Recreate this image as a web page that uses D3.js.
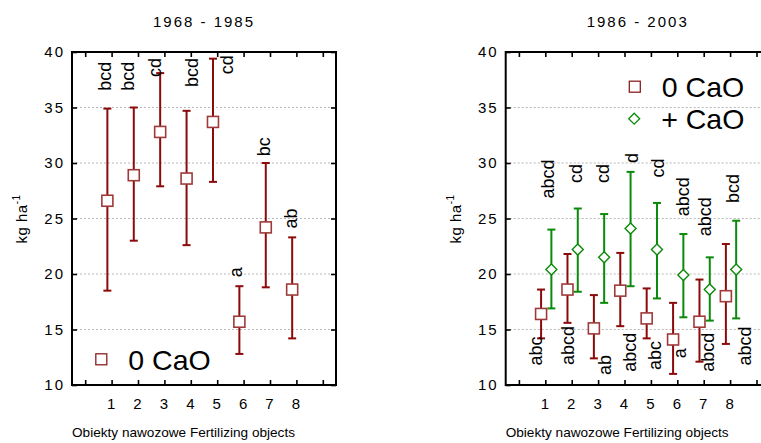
<!DOCTYPE html>
<html>
<head>
<meta charset="utf-8">
<script src="https://cdn.jsdelivr.net/npm/d3@7"></script>
<style>
  body { margin: 0; background: #fff; }
  svg text { font-family: "Liberation Sans", Arial, sans-serif; fill: #000; }
</style>
</head>
<body>
<svg id="chart" width="761" height="443"></svg>
<script>
// Fertilizing objects (x categories) and tick slots
const objects = [1, 2, 3, 4, 5, 6, 7, 8];
const tickSlots = [0, 1, 2, 3, 4, 5, 6, 7, 8, 9];
const yTicks = [10, 15, 20, 25, 30, 35, 40];
const gridValues = [15, 20, 25, 30, 35];

// 1968 - 1985, 0 CaO
const earlyMean = [26.6, 28.9, 32.8, 28.6, 33.7, 15.7, 24.2, 18.6];
const earlyLow = [18.5, 23.0, 27.9, 22.6, 28.3, 12.8, 18.8, 14.2];
const earlyHigh = [34.9, 35.0, 38.1, 34.7, 39.4, 18.9, 30.0, 23.3];
const earlyLetters = ["bcd", "bcd", "cd", "bcd", "cd", "a", "bc", "ab"];
const earlyLetterAt = [36.5, 36.5, 37.75, 36.85, 38.0, 19.7, 30.6, 24.1];
const earlyLetterDx = [-0.7, -3.8, -3.5, 6.8, 15.7, -2, 0, 0.5];

// 1986 - 2003, 0 CaO
const lateNoCaMean = [16.4, 18.6, 15.1, 18.5, 16.0, 14.1, 15.7, 18.0];
const lateNoCaLow = [14.2, 15.6, 12.4, 15.3, 14.2, 11.0, 12.1, 13.7];
const lateNoCaHigh = [18.6, 21.8, 18.1, 21.9, 18.7, 17.4, 19.5, 22.7];
const lateNoCaLetters = ["abc", "abcd", "ab", "abcd", "abc", "a", "abcd", "abcd"];
const lateNoCaLetterAt = [11.75, 11.8, 10.9, 11.2, 11.35, 12.4, 11.2, 11.75];
const lateNoCaLetterDx = [-3, 2.2, 12.5, 11.1, 9.7, 8.3, 10.2, 20.5];

// 1986 - 2003, + CaO
const lateCaMean = [20.4, 22.2, 21.5, 24.1, 22.2, 19.9, 18.6, 20.4];
const lateCaLow = [16.9, 18.4, 17.4, 18.9, 17.8, 16.1, 15.8, 16.0];
const lateCaHigh = [24.0, 25.9, 25.4, 29.2, 26.4, 23.6, 21.5, 24.8];
const lateCaLetters = ["abcd", "cd", "cd", "d", "cd", "abcd", "abcd", "bcd"];
const lateCaLetterAt = [26.8, 28.2, 28.2, 30.0, 28.7, 25.2, 23.4, 26.4];
const lateCaLetterDx = [8.6, 10.6, 10.8, 13.1, 13, 11.6, 6.9, 8.5];

const RED = "#8b0a0a";
const GREEN = "#0a8a0a";
const plotW = 264, plotH = 333;

const x = d3.scaleLinear().domain([-0.5, 9.5]).range([0, plotW]);
const y = d3.scaleLinear().domain([10, 40]).range([plotH, 0]);

const svg = d3.select("#chart");

function drawPanel(left, title, seriesList, legend) {
  const g = svg.append("g").attr("transform", `translate(${left},52)`);

  // title
  svg.append("text")
    .attr("x", left + plotW / 2).attr("y", 27)
    .attr("text-anchor", "middle")
    .style("font-size", "15px").style("letter-spacing", "2px")
    .text(title);

  // dashed grid
  g.selectAll(".grid").data(gridValues).enter().append("line")
    .attr("x1", 0).attr("x2", plotW)
    .attr("y1", d => y(d)).attr("y2", d => y(d))
    .attr("stroke", "#b8b8b8").attr("stroke-width", 1)
    .attr("stroke-dasharray", "2,2");

  // axes with inward ticks
  const xb = g.append("g").attr("transform", `translate(0,${plotH})`)
    .call(d3.axisBottom(x).tickValues(tickSlots).tickSizeInner(-5).tickSizeOuter(0).tickPadding(13)
      .tickFormat(d => (d >= 1 && d <= 8) ? d : ""));
  const xt = g.append("g")
    .call(d3.axisTop(x).tickValues(tickSlots).tickSizeInner(-5).tickSizeOuter(0).tickFormat(""));
  const yl = g.append("g")
    .call(d3.axisLeft(y).tickValues(yTicks).tickSizeInner(-5).tickSizeOuter(0).tickPadding(7));
  const yr = g.append("g").attr("transform", `translate(${plotW},0)`)
    .call(d3.axisRight(y).tickValues(yTicks).tickSizeInner(-5).tickSizeOuter(0).tickFormat(""));
  [xb, xt, yl, yr].forEach(a => {
    a.select(".domain").remove();
    a.selectAll(".tick line").attr("stroke", "#000").attr("stroke-width", 1.6);
    a.selectAll("text").style("font-size", "15px").style("letter-spacing", "2px")
      .style("font-family", "'Liberation Sans', Arial, sans-serif").attr("fill", "#000");
  });

  // frame
  g.append("rect").attr("width", plotW).attr("height", plotH)
    .attr("fill", "none").attr("stroke", "#000").attr("stroke-width", 2);

  // y axis title
  const yt = svg.append("text")
    .attr("transform", `translate(${left - 45},219) rotate(-90)`)
    .attr("text-anchor", "middle")
    .style("font-size", "15px").style("letter-spacing", "0.5px");
  yt.append("tspan").text("kg ha");
  yt.append("tspan").attr("dy", -7).style("font-size", "10px").text("-1");

  // x axis title
  svg.append("text")
    .attr("x", left).attr("y", 437)
    .attr("textLength", 223).attr("lengthAdjust", "spacingAndGlyphs")
    .style("font-size", "13.5px")
    .text("Obiekty nawozowe Fertilizing objects");

  seriesList.forEach(s => {
    const rows = objects.map((o, i) => ({
      o, mean: s.mean[i], low: s.low[i], high: s.high[i],
      letter: s.letters[i], at: s.letterAt[i], dx: s.letterDx[i]
    }));
    const px = d => x(d.o + s.offset);
    const sg = g.append("g");

    sg.selectAll(".bar").data(rows).enter().append("line")
      .attr("x1", px).attr("x2", px)
      .attr("y1", d => y(d.low)).attr("y2", d => y(d.high))
      .attr("stroke", s.color).attr("stroke-width", 2);
    ["low", "high"].forEach(k => {
      sg.selectAll(".cap-" + k).data(rows).enter().append("line")
        .attr("x1", d => px(d) - 4).attr("x2", d => px(d) + 4)
        .attr("y1", d => y(d[k])).attr("y2", d => y(d[k]))
        .attr("stroke", s.color).attr("stroke-width", 2);
    });

    if (s.marker === "square") {
      sg.selectAll(".pt").data(rows).enter().append("rect")
        .attr("x", d => px(d) - 5.5).attr("y", d => y(d.mean) - 5.5)
        .attr("width", 11).attr("height", 11)
        .attr("fill", "#fff").attr("stroke", "#a03a3a").attr("stroke-width", 1.6);
    } else {
      sg.selectAll(".pt").data(rows).enter().append("path")
        .attr("d", d => `M${px(d)},${y(d.mean) - 5.5}l5.5,5.5l-5.5,5.5l-5.5,-5.5z`)
        .attr("fill", "#fff").attr("stroke", s.color).attr("stroke-width", 1.4);
    }

    sg.selectAll(".letter").data(rows).enter().append("text")
      .attr("transform", d => `translate(${x(d.o) + d.dx},${y(d.at)}) rotate(-90)`)
      .style("font-size", "18px")
      .text(d => d.letter);
  });

  // legend
  legend.forEach(l => {
    if (l.marker === "square") {
      svg.append("rect").attr("x", l.x - 5.5).attr("y", l.y - 5.5)
        .attr("width", 11).attr("height", 11)
        .attr("fill", "#fff").attr("stroke", "#8b2020").attr("stroke-width", 1.3);
    } else {
      svg.append("path")
        .attr("d", `M${l.x},${l.y - 5.5}l5.5,5.5l-5.5,5.5l-5.5,-5.5z`)
        .attr("fill", "#fff").attr("stroke", GREEN).attr("stroke-width", 1.3);
    }
    svg.append("text").attr("x", l.x + 27).attr("y", l.y + 10.3)
      .style("font-size", "28.5px").text(l.label);
  });
}

drawPanel(72, "1968 - 1985", [
  { mean: earlyMean, low: earlyLow, high: earlyHigh, letters: earlyLetters,
    letterAt: earlyLetterAt, letterDx: earlyLetterDx, offset: -0.16, color: RED, marker: "square" }
], [
  { x: 101.3, y: 359.3, marker: "square", label: "0 CaO" }
]);

drawPanel(505.7, "1986 - 2003", [
  { mean: lateNoCaMean, low: lateNoCaLow, high: lateNoCaHigh, letters: lateNoCaLetters,
    letterAt: lateNoCaLetterAt, letterDx: lateNoCaLetterDx, offset: -0.16, color: RED, marker: "square" },
  { mean: lateCaMean, low: lateCaLow, high: lateCaHigh, letters: lateCaLetters,
    letterAt: lateCaLetterAt, letterDx: lateCaLetterDx, offset: 0.23, color: GREEN, marker: "diamond" }
], [
  { x: 634.8, y: 86.7, marker: "square", label: "0 CaO" },
  { x: 634.2, y: 118.7, marker: "diamond", label: "+ CaO" }
]);
</script>
</body>
</html>
